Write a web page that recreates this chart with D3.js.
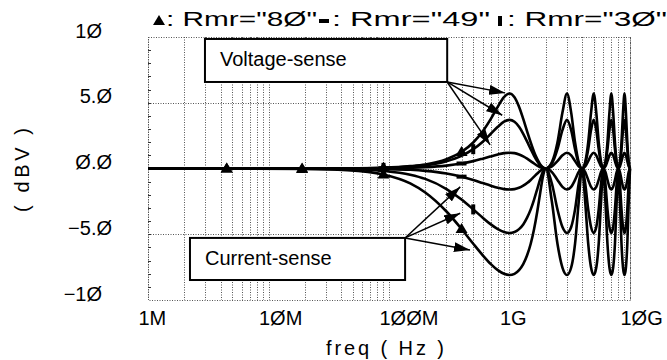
<!DOCTYPE html>
<html>
<head>
<meta charset="utf-8">
<script src="https://cdn.jsdelivr.net/npm/d3@7"></script>
<style>
  body { margin: 0; background: #fff; }
  svg { display: block; }
  text { font-family: "Liberation Sans", Arial, sans-serif; fill: #000; }
</style>
</head>
<body>
<svg></svg>
<script>
// canvas size
var w = 667;
var h = 360;

// plot box (pixels)
var plotLeft = 148, plotRight = 630, plotTop = 37, plotBottom = 300;

// frequency points (Hz)
var freqs = [1e6, 4.5e6, 1.9e7, 4.5e7, 9e7,
    1.5e8, 2e8, 3e8, 4e8, 5e8, 6e8, 7e8, 8e8, 9e8,
    1e9, 1.1e9, 1.2e9, 1.3e9, 1.4e9, 1.5e9, 1.6e9, 1.7e9, 1.8e9, 1.9e9, 2e9,
    2.25e9, 2.5e9, 2.75e9, 3e9, 3.25e9, 3.5e9, 3.75e9, 4e9,
    4.25e9, 4.5e9, 4.75e9, 5e9, 5.25e9, 5.5e9, 5.75e9, 6e9,
    6.25e9, 6.5e9, 6.75e9, 7e9, 7.25e9, 7.5e9, 7.75e9, 8e9,
    8.25e9, 8.5e9, 8.75e9, 9e9, 9.25e9, 9.5e9, 9.75e9, 1e10];

// voltage-sense curves (dBV)
var vsHigh = [0, 0, 0, 0.01, 0.06,
    0.18, 0.31, 0.71, 1.26, 1.98, 2.83, 3.77, 4.70, 5.42,
    5.70, 5.42, 4.70, 3.77, 2.83, 1.98, 1.26, 0.71, 0.31, 0.08, 0,
    0.49, 1.98, 4.25, 5.70, 4.25, 1.98, 0.49, 0,
    0.49, 1.98, 4.25, 5.70, 4.25, 1.98, 0.49, 0,
    0.49, 1.98, 4.25, 5.70, 4.25, 1.98, 0.49, 0,
    0.49, 1.98, 4.25, 5.70, 4.25, 1.98, 0.49, 0];
var vsMid = [0, 0, 0, 0.01, 0.05,
    0.14, 0.24, 0.55, 0.96, 1.47, 2.04, 2.64, 3.17, 3.56,
    3.70, 3.56, 3.17, 2.64, 2.04, 1.47, 0.96, 0.55, 0.24, 0.06, 0,
    0.38, 1.47, 2.92, 3.70, 2.92, 1.47, 0.38, 0,
    0.38, 1.47, 2.92, 3.70, 2.92, 1.47, 0.38, 0,
    0.38, 1.47, 2.92, 3.70, 2.92, 1.47, 0.38, 0,
    0.38, 1.47, 2.92, 3.70, 2.92, 1.47, 0.38, 0];
var vsLow = [0, 0, 0, 0, 0.02,
    0.06, 0.10, 0.22, 0.38, 0.56, 0.75, 0.92, 1.07, 1.17,
    1.20, 1.17, 1.07, 0.92, 0.75, 0.56, 0.38, 0.22, 0.10, 0.03, 0,
    0.16, 0.56, 1.00, 1.20, 1.00, 0.56, 0.16, 0,
    0.16, 0.56, 1.00, 1.20, 1.00, 0.56, 0.16, 0,
    0.16, 0.56, 1.00, 1.20, 1.00, 0.56, 0.16, 0,
    0.16, 0.56, 1.00, 1.20, 1.00, 0.56, 0.16, 0];

// current-sense curves (dBV)
var csLow = [0, 0, 0, -0.01, -0.04,
    -0.10, -0.18, -0.38, -0.62, -0.87, -1.11, -1.31, -1.47, -1.57,
    -1.60, -1.57, -1.47, -1.31, -1.11, -0.87, -0.62, -0.38, -0.18, -0.05, 0,
    -0.27, -0.87, -1.40, -1.60, -1.40, -0.87, -0.27, 0,
    -0.27, -0.87, -1.40, -1.60, -1.40, -0.87, -0.27, 0,
    -0.27, -0.87, -1.40, -1.60, -1.40, -0.87, -0.27, 0,
    -0.27, -0.87, -1.40, -1.60, -1.40, -0.87, -0.27, 0];
var csMid = [0, 0, -0.01, -0.04, -0.18,
    -0.47, -0.79, -1.56, -2.36, -3.11, -3.74, -4.25, -4.61, -4.83,
    -4.90, -4.83, -4.61, -4.25, -3.74, -3.11, -2.36, -1.56, -0.79, -0.22, 0,
    -1.16, -3.11, -4.45, -4.90, -4.45, -3.11, -1.16, 0,
    -1.16, -3.11, -4.45, -4.90, -4.45, -3.11, -1.16, 0,
    -1.16, -3.11, -4.45, -4.90, -4.45, -3.11, -1.16, 0,
    -1.16, -3.11, -4.45, -4.90, -4.45, -3.11, -1.16, 0];
var csHigh = [0, 0, -0.03, -0.12, -0.45,
    -1.13, -1.82, -3.27, -4.60, -5.72, -6.60, -7.27, -7.73, -8.01,
    -8.10, -8.01, -7.73, -7.27, -6.60, -5.72, -4.60, -3.27, -1.82, -0.54, 0,
    -2.55, -5.72, -7.53, -8.10, -7.53, -5.72, -2.55, 0,
    -2.55, -5.72, -7.53, -8.10, -7.53, -5.72, -2.55, 0,
    -2.55, -5.72, -7.53, -8.10, -7.53, -5.72, -2.55, 0,
    -2.55, -5.72, -7.53, -8.10, -7.53, -5.72, -2.55, 0];

// marker positions (indices into freqs) for each legend symbol
var triIdx = [1, 2, 4, 8];
var dashIdx = [4, 8];
var barIdx = [4, 9];

var series = [
    { values: vsHigh, sym: "tri", marks: triIdx },
    { values: vsMid, sym: "bar", marks: barIdx },
    { values: vsLow, sym: "dash", marks: dashIdx },
    { values: csLow, sym: "dash", marks: dashIdx },
    { values: csMid, sym: "bar", marks: barIdx },
    { values: csHigh, sym: "tri", marks: triIdx }
];

// axis ticks
var xTicks = [1e6, 1e7, 1e8, 1e9, 1e10];
var xTickLabels = ["1M", "1ØM", "1ØØM", "1G", "1ØG"];
var yTicks = [-10, -5, 0, 5, 10];
var yTickLabels = ["−1Ø", "−5.Ø", "Ø.Ø", "5.Ø", "1Ø"];
var yGrid = [-5, 0, 5];

// legend
var legendLabels = [': Rmr="8Ø"', ': Rmr="49"', ': Rmr="3Ø"'];
var legendSyms = ["tri", "dash", "bar"];

// annotation boxes and arrows (freq, dB)
var vBox = { text: "Voltage-sense", f0: 2.97e6, f1: 3.04e8, top: 9.85, bottom: 6.58 };
var cBox = { text: "Current-sense", f0: 2.23e6, f1: 1.36e8, top: -5.28, bottom: -8.48 };
var vArrowFrom = [3.04e8, 6.58];
var vArrowTips = [[9.2e8, 5.75], [8.7e8, 4.05], [6.9e8, 1.8]];
var cArrowFrom = [1.36e8, -5.28];
var cArrowTips = [[3.9e8, -1.4], [3.9e8, -3.4], [4.7e8, -6.2]];

var xScale = d3.scaleLog().domain([1e6, 1e10]).range([plotLeft, plotRight]);
var yScale = d3.scaleLinear().domain([-10, 10]).range([plotBottom, plotTop]);

var svg = d3.select("svg").attr("width", w).attr("height", h);

var gridColor = "#555";

// vertical grid lines (1..9 per decade)
svg.append("g").selectAll("line")
    .data(xScale.ticks())
    .enter().append("line")
    .attr("x1", d => Math.round(xScale(d)) + 0.5)
    .attr("x2", d => Math.round(xScale(d)) + 0.5)
    .attr("y1", plotTop)
    .attr("y2", plotBottom)
    .attr("stroke", gridColor)
    .attr("stroke-width", 1)
    .attr("stroke-dasharray", "1,1.5");

// horizontal grid lines
svg.append("g").selectAll("line")
    .data(yGrid)
    .enter().append("line")
    .attr("x1", plotLeft)
    .attr("x2", plotRight)
    .attr("y1", d => Math.round(yScale(d)) + 0.5)
    .attr("y2", d => Math.round(yScale(d)) + 0.5)
    .attr("stroke", gridColor)
    .attr("stroke-dasharray", "1,1.5");

// dotted frame
svg.append("rect")
    .attr("x", plotLeft + 0.5)
    .attr("y", plotTop + 0.5)
    .attr("width", plotRight - plotLeft)
    .attr("height", plotBottom - plotTop)
    .attr("fill", "none")
    .attr("stroke", gridColor)
    .attr("stroke-dasharray", "1,1.5");

// minor ticks on left edge (1 dB)
svg.append("g").selectAll("line")
    .data(d3.range(-9, 10))
    .enter().append("line")
    .attr("x1", plotLeft)
    .attr("x2", plotLeft + 3)
    .attr("y1", d => Math.round(yScale(d)) + 0.5)
    .attr("y2", d => Math.round(yScale(d)) + 0.5)
    .attr("stroke", "#333");

// y axis labels
var yAxis = d3.axisLeft(yScale)
    .tickValues(yTicks)
    .tickSize(0)
    .tickPadding(plotLeft - 112)
    .tickFormat((d, i) => yTickLabels[i]);
var yG = svg.append("g")
    .attr("transform", "translate(" + plotLeft + ",0)")
    .call(yAxis);
yG.select(".domain").remove();
yG.selectAll("text")
    .attr("dy", 0)
    .attr("dx", d => (d % 5 === 0 && Math.abs(d) === 10) ? -10 : 0)
    .attr("font-size", "20px")
    .attr("font-family", "Liberation Sans, Arial, sans-serif");

// x axis labels
var xAxis = d3.axisBottom(xScale)
    .tickValues(xTicks)
    .tickSize(0)
    .tickFormat((d, i) => xTickLabels[i]);
var xG = svg.append("g")
    .attr("transform", "translate(0," + plotBottom + ")")
    .call(xAxis);
xG.select(".domain").remove();
xG.selectAll("text")
    .attr("y", 25)
    .attr("dy", 0)
    .attr("dx", -10)
    .attr("text-anchor", "start")
    .attr("font-size", "20px")
    .attr("font-family", "Liberation Sans, Arial, sans-serif");

// axis titles
svg.append("text")
    .attr("x", 385)
    .attr("y", 355)
    .attr("text-anchor", "middle")
    .attr("font-size", "20px")
    .attr("textLength", 118)
    .attr("lengthAdjust", "spacing")
    .text("freq ( Hz )");

svg.append("text")
    .attr("transform", "translate(29,170) rotate(-90)")
    .attr("text-anchor", "middle")
    .attr("font-size", "20px")
    .attr("textLength", 84)
    .attr("lengthAdjust", "spacing")
    .text("( dBV )");

// curves
var line = d3.line()
    .x((d, i) => xScale(freqs[i]))
    .y(d => yScale(d))
    .curve(d3.curveMonotoneX);

svg.append("g").selectAll("path")
    .data(series)
    .enter().append("path")
    .attr("d", d => line(d.values))
    .attr("fill", "none")
    .attr("stroke", "#000")
    .attr("stroke-width", 2.6)
    .attr("stroke-linejoin", "round");

// marker drawing helper
function drawSym(g, sym, cx, cy) {
    if (sym === "tri") {
        g.append("path")
            .attr("d", "M" + cx + "," + (cy - 6) + "L" + (cx + 6) + "," + (cy + 4) + "L" + (cx - 6) + "," + (cy + 4) + "Z")
            .attr("fill", "#000");
    } else if (sym === "dash") {
        g.append("rect").attr("x", cx - 5).attr("y", cy - 2).attr("width", 10).attr("height", 4).attr("fill", "#000");
    } else {
        g.append("rect").attr("x", cx - 2).attr("y", cy - 5).attr("width", 4).attr("height", 10).attr("fill", "#000");
    }
}

var markG = svg.append("g");
series.forEach(function (s) {
    s.marks.forEach(function (i) {
        drawSym(markG, s.sym, xScale(freqs[i]), yScale(s.values[i]));
    });
});

// arrowhead
svg.append("defs").append("marker")
    .attr("id", "arrow")
    .attr("viewBox", "0 0 16 10")
    .attr("refX", 16)
    .attr("refY", 5)
    .attr("markerWidth", 16)
    .attr("markerHeight", 10)
    .attr("markerUnits", "userSpaceOnUse")
    .attr("orient", "auto")
    .append("path")
    .attr("d", "M0,0L16,5L0,10Z")
    .attr("fill", "#000");

function drawArrows(from, tips) {
    svg.append("g").selectAll("line")
        .data(tips)
        .enter().append("line")
        .attr("x1", xScale(from[0]))
        .attr("y1", yScale(from[1]))
        .attr("x2", d => xScale(d[0]))
        .attr("y2", d => yScale(d[1]))
        .attr("stroke", "#000")
        .attr("stroke-width", 1.5)
        .attr("marker-end", "url(#arrow)");
}
drawArrows(vArrowFrom, vArrowTips);
drawArrows(cArrowFrom, cArrowTips);

// annotation boxes
[vBox, cBox].forEach(function (b) {
    var bx = xScale(b.f0), by = yScale(b.top);
    var bw = xScale(b.f1) - bx, bh = yScale(b.bottom) - by;
    svg.append("rect")
        .attr("x", bx)
        .attr("y", by)
        .attr("width", bw)
        .attr("height", bh)
        .attr("fill", "#fff")
        .attr("stroke", "#000")
        .attr("stroke-width", 2);
    svg.append("text")
        .attr("x", bx + 15)
        .attr("y", by + 27)
        .attr("font-size", "20px")
        .text(b.text);
});

// legend across the top
var legendX = [159, 324, 500];
var textX = [166, 332, 507];
var textLen = [151, 158, 160];
var legG = svg.append("g");
legendLabels.forEach(function (lab, i) {
    drawSym(legG, legendSyms[i], legendX[i], 21);
    legG.append("text")
        .attr("x", textX[i])
        .attr("y", 26)
        .attr("font-size", "21px")
        .attr("textLength", textLen[i])
        .attr("lengthAdjust", "spacingAndGlyphs")
        .text(lab);
});
</script>
</body>
</html>
